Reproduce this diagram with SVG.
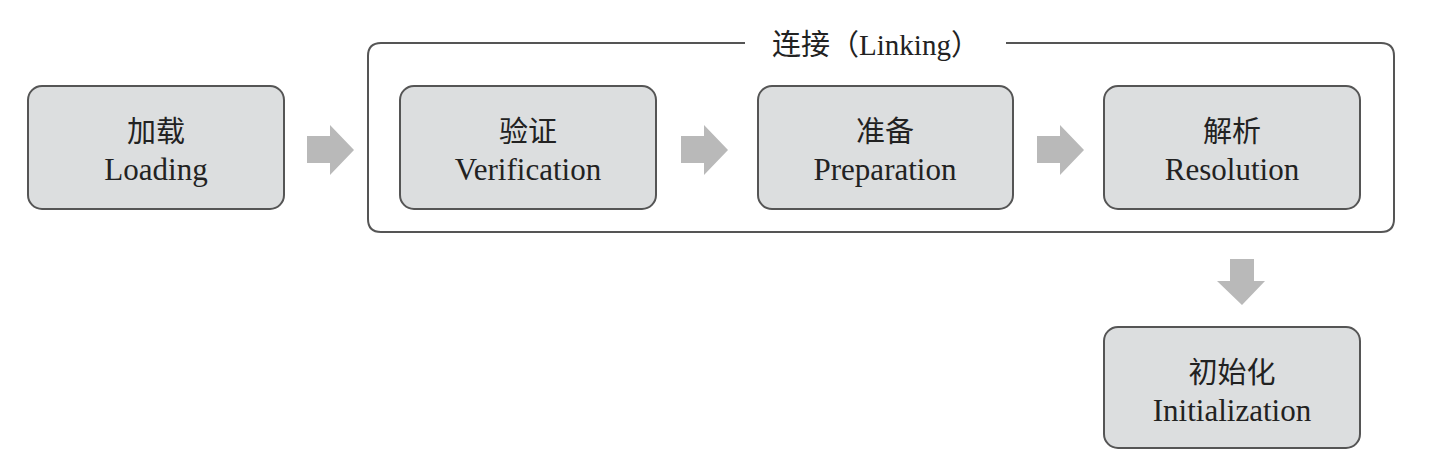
<svg xmlns="http://www.w3.org/2000/svg" width="1441" height="473" viewBox="0 0 1441 473">
<style>
.box{fill:#dcdedf;stroke:#555;stroke-width:2}
.frame{fill:none;stroke:#555;stroke-width:2}
.arr{fill:#b9b9b9}
text{font-family:"Liberation Serif","Noto Sans CJK SC",serif;fill:#222;text-anchor:middle}
.zh{font-size:29px}
.en{font-size:31px}
.title{font-size:29px}
</style>
<rect width="1441" height="473" fill="#fff"/>
<g id="linking">
<path class="frame" d="M745 43 H381 Q368 43 368 56 V219 Q368 232 381 232 H1381 Q1394 232 1394 219 V56 Q1394 43 1381 43 H1006"/>
<text class="title" x="876" y="55">连接（Linking）</text>
</g>
<g id="loading">
<rect class="box" x="28" y="86" width="256" height="123" rx="14"/>
<text class="zh" x="156" y="142">加载</text>
<text class="en" x="156" y="180">Loading</text>
</g>
<g id="verification">
<rect class="box" x="400" y="86" width="256" height="123" rx="14"/>
<text class="zh" x="528" y="142">验证</text>
<text class="en" x="528" y="180">Verification</text>
</g>
<g id="preparation">
<rect class="box" x="758" y="86" width="255" height="123" rx="14"/>
<text class="zh" x="885" y="142">准备</text>
<text class="en" x="885" y="180">Preparation</text>
</g>
<g id="resolution">
<rect class="box" x="1104" y="86" width="256" height="123" rx="14"/>
<text class="zh" x="1232" y="142">解析</text>
<text class="en" x="1232" y="180">Resolution</text>
</g>
<g id="initialization">
<rect class="box" x="1104" y="327" width="256" height="121" rx="14"/>
<text class="zh" x="1232" y="383">初始化</text>
<text class="en" x="1232" y="421">Initialization</text>
</g>
<g id="connectors">
<path class="arr" d="M307 136 H330 V125 L354 150 L330 175 V163 H307 Z"/>
<path class="arr" d="M681 136 H704 V125 L728 150 L704 175 V163 H681 Z"/>
<path class="arr" d="M1037 136 H1060 V125 L1084 150 L1060 175 V163 H1037 Z"/>
<path class="arr" d="M1230 259 H1254 V281 H1265 L1242 305 L1217 281 H1230 Z"/>
</g>
</svg>
